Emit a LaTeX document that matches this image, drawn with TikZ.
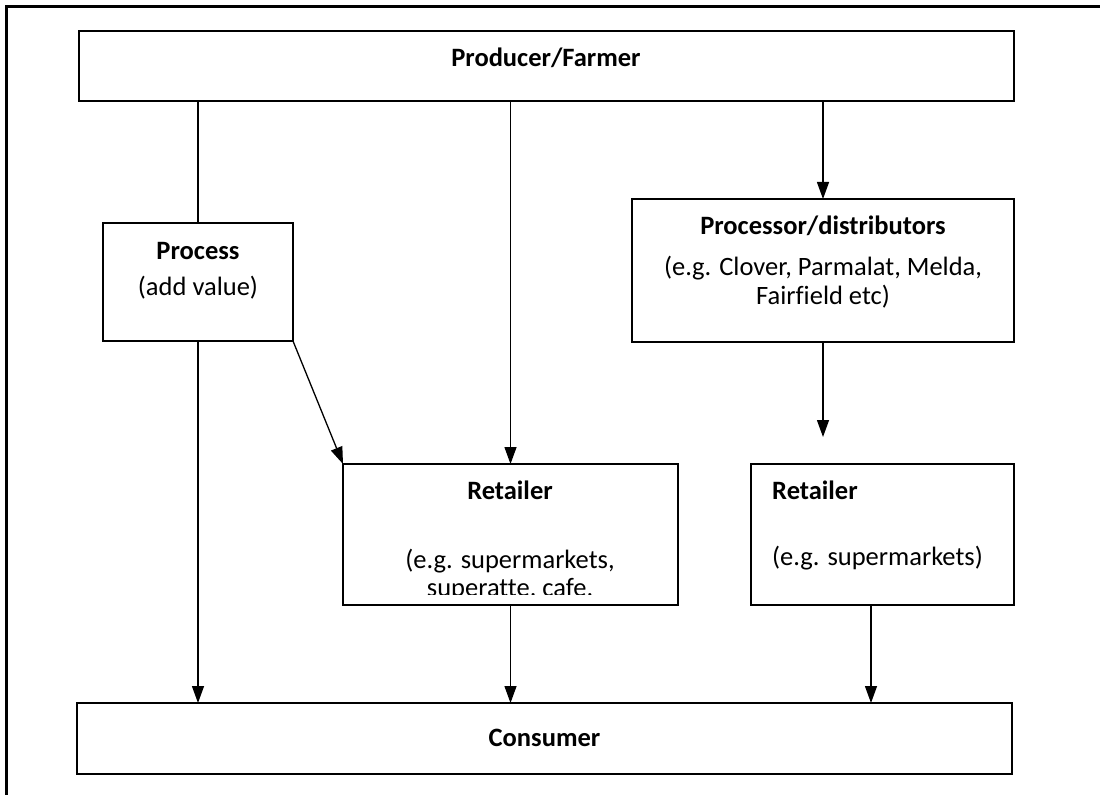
\documentclass[tikz,border=0pt]{standalone}
\usepackage{fontspec}
\setmainfont{Carlito}[Ligatures=NoCommon]
\usetikzlibrary{arrows.meta}
\begin{document}
\begin{tikzpicture}[x=1bp,y=-1bp,
  box/.style={draw,line width=2.4bp,rectangle,inner sep=0pt,outer sep=0pt},
  conn/.style={line width=1.3bp},
  arr/.style={conn,-{Triangle[length=17bp,width=12bp]}},
  txt/.style={inner sep=0pt,anchor=base,font=\fontsize{26.5bp}{30bp}\selectfont},
  ttl/.style={txt,font=\fontsize{26.5bp}{30bp}\selectfont\bfseries}]
% white page
\fill[white] (0,0) rectangle (1100,795);
\useasboundingbox (0,0) rectangle (1100,795);
% frame lines along the top and left edges
\draw[line width=3.2bp] (6.5,800) -- (6.5,6.5) -- (1102,6.5);

% boxes
\node[box,minimum width=935bp,minimum height=70bp] (prod) at (546.5,66) {};
\node[box,minimum width=190bp,minimum height=118bp] (proc) at (198,282) {};
\node[box,minimum width=382bp,minimum height=143bp] (dist) at (823,270.5) {};
\node[box,minimum width=335bp,minimum height=141bp] (ret1) at (510.5,534.5) {};
\node[box,minimum width=263bp,minimum height=141bp] (ret2) at (882.5,534.5) {};
\node[box,minimum width=935bp,minimum height=71bp] (cons) at (544.5,738.5) {};

% texts
\node[ttl] (tprod) at (546,67) {Producer/Farmer};
\node[ttl] (tproc) at (198,259) {Process};
\node[txt] (tproc2) at (198,295) {(add value)};
\node[ttl] (tdist) at (823,234) {Processor/distributors};
\node[txt] (tdist2) at (823,275) {(e.g. Clover, Parmalat, Melda,};
\node[txt] (tdist3) at (823,304) {Fairfield etc)};
\node[ttl] (tret1) at (510,499) {Retailer};
\node[txt] (tret1b) at (510,568) {(e.g. supermarkets,};
\begin{scope}
  \clip (343,575) rectangle (678,594.5);
  \node[txt] (tret1c) at (510,596) {superatte, cafe,};
\end{scope}
\node[ttl,anchor=base west] (tret2) at (772,499) {Retailer};
\node[txt,anchor=base west] (tret2b) at (772,565) {(e.g. supermarkets)};
\node[ttl] (tcons) at (544.5,746) {Consumer};

% connectors
\coordinate (distend) at (823,437);
\draw[conn] (proc.north |- prod.south) -- (proc.north);
\draw[arr] (ret1.north |- prod.south) -- (ret1.north);
\draw[arr] (dist.north |- prod.south) -- (dist.north);
\draw[arr] (dist.south) -- (distend);
\draw[arr] (proc.south east) -- (ret1.north west);
\draw[arr] (proc.south) -- (proc.south |- cons.north);
\draw[arr] (ret1.south) -- (ret1.south |- cons.north);
\draw[arr] ([xshift=120bp]ret2.south west) -- ([xshift=120bp]ret2.south west |- cons.north);
\end{tikzpicture}
\end{document}
